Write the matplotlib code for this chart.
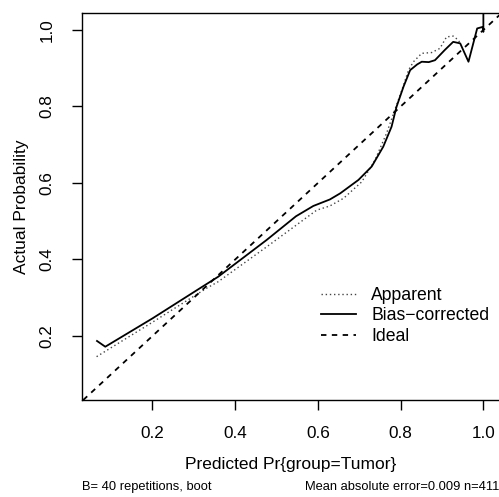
import numpy as np
import matplotlib
matplotlib.use("Agg")
import matplotlib.pyplot as plt

plt.rcParams['font.family'] = ['Liberation Sans', 'DejaVu Sans']

# Bias-corrected calibration curve
bias_x = [0.066, 0.086, 0.20, 0.315, 0.359, 0.476, 0.547, 0.589, 0.629, 0.654,
          0.698, 0.730, 0.758, 0.778, 0.790, 0.807, 0.823, 0.840, 0.851, 0.868,
          0.883, 0.907, 0.927, 0.944, 0.964, 0.985, 0.998, 1.000, 1.000]
bias_y = [0.187, 0.172, 0.246, 0.325, 0.355, 0.451, 0.513, 0.540, 0.557, 0.573,
          0.608, 0.643, 0.695, 0.747, 0.799, 0.852, 0.895, 0.910, 0.917, 0.916,
          0.921, 0.948, 0.969, 0.965, 0.917, 1.004, 1.008, 0.995, 1.100]

# Apparent calibration curve
app_x = [0.065, 0.20, 0.331, 0.359, 0.476, 0.597, 0.629, 0.662, 0.706, 0.738,
         0.766, 0.786, 0.803, 0.819, 0.831, 0.851, 0.875, 0.895, 0.911, 0.927,
         0.939, 0.946]
app_y = [0.146, 0.236, 0.325, 0.342, 0.433, 0.529, 0.540, 0.560, 0.603, 0.660,
         0.730, 0.791, 0.843, 0.895, 0.917, 0.939, 0.941, 0.952, 0.982, 0.984,
         0.974, 0.962]

x_ticks = [0.2, 0.4, 0.6, 0.8, 1.0]
y_ticks = [0.2, 0.4, 0.6, 0.8, 1.0]

fig = plt.figure(figsize=(4.99, 4.97), dpi=100)
W, H = 499, 497
ax = fig.add_axes([81.7 / W, (H - 400) / H, (500.5 - 81.7) / W, (400 - 13) / H])

ax.plot(app_x, app_y, color='#444444', linestyle=(0, (1, 2)), linewidth=1.0, label='Apparent')
ax.plot(bias_x, bias_y, color='black', linestyle='-', linewidth=1.3, label='Bias\u2212corrected')
ax.axline((0, 0), slope=1, color='black', linestyle=(0, (3, 3)), linewidth=1.3, label='Ideal')

ax.set_xlim(0.029, 1.0414)
ax.set_ylim(0.0327, 1.0444)
ax.set_xticks(x_ticks)
ax.set_yticks(y_ticks)
ax.set_xticklabels(['%.1f' % v for v in x_ticks])
ax.set_yticklabels(['%.1f' % v for v in y_ticks], rotation=90, va='center')

ax.tick_params(direction='out', length=7.5, width=1.0, labelsize=12.3)
ax.tick_params(axis='x', pad=11)
ax.tick_params(axis='y', pad=12)
for side in ['left', 'bottom', 'top', 'right']:
    ax.spines[side].set_linewidth(1.0)

ax.set_xlabel('Predicted Pr{group=Tumor}', fontsize=12.5, labelpad=12)
ax.set_ylabel('Actual Probability', fontsize=12.5, labelpad=8)

ax.legend(loc='upper left', bbox_to_anchor=(312 / W, 1 - 278 / H), bbox_transform=fig.transFigure,
          frameon=False, fontsize=12.7, handlelength=2.0, handletextpad=0.85,
          labelspacing=0.2, borderpad=0)

fig.text(82 / W, 1 - 487 / H, 'B= 40 repetitions, boot', fontsize=9.3, ha='left', va='center')
fig.text(499 / W, 1 - 487 / H, 'Mean absolute error=0.009 n=411', fontsize=9.3, ha='right', va='center')

fig.savefig('out.png', dpi=100)
